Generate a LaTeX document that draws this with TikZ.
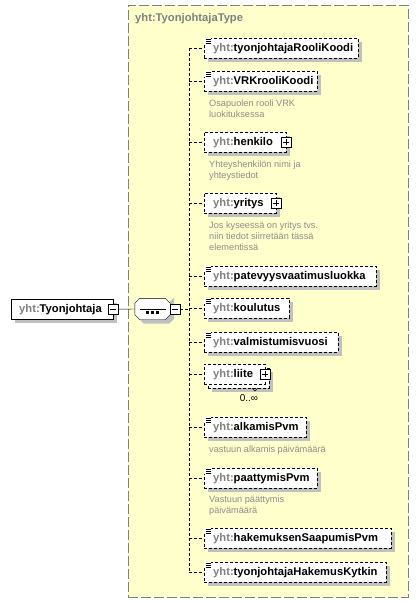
\documentclass[tikz,border=0pt]{standalone}
\usepackage{fontspec}
\setmainfont{Liberation Sans}
\definecolor{ybg}{RGB}{255,255,204}
\definecolor{bgrey}{RGB}{128,128,128}
\definecolor{shgrey}{RGB}{192,192,192}
\definecolor{pfx}{RGB}{128,128,128}
\definecolor{anno}{RGB}{140,140,140}
\newcommand{\yel}[1]{{\color{pfx}yht:}#1}
\tikzset{
  elem/.style={draw=black, dash pattern=on 3pt off 2pt, fill=white, anchor=north west,
    minimum height=20pt, inner xsep=9pt, inner ysep=0pt, text width=#1, align=left,
    font=\fontsize{11.2}{13}\selectfont\bfseries},
  rootbox/.style={draw=black, fill=white, anchor=north west, minimum height=20pt,
    inner xsep=8pt, inner ysep=0pt, text width=#1, align=left,
    font=\fontsize{11.2}{13}\selectfont\bfseries},
  shadowbox/.style={fill=shgrey, draw=none, anchor=north west, minimum height=20pt,
    minimum width=#1, inner sep=0pt},
  annot/.style={anchor=north west, inner sep=0pt, align=left, text=anno,
    font=\fontsize{9.2}{11}\selectfont},
  branch/.style={draw=black, dash pattern=on 3pt off 2pt},
  minusbox/.style={draw=black, solid, fill=white, minimum size=10pt, inner sep=0pt,
    path picture={\draw[solid] ([xshift=2pt]path picture bounding box.west) -- ([xshift=-2pt]path picture bounding box.east);}},
  plusbox/.style={draw=black, solid, fill=white, minimum size=10pt, inner sep=0pt,
    path picture={\draw[solid] ([xshift=2pt]path picture bounding box.west) -- ([xshift=-2pt]path picture bounding box.east);
      \draw[solid] ([yshift=-2pt]path picture bounding box.north) -- ([yshift=2pt]path picture bounding box.south);}},
  icon/.style={anchor=north west, fill=white, minimum width=7pt, minimum height=6pt, inner sep=0pt,
    path picture={\foreach \k in {1.5,3.5,5.5}{\draw[line width=0.8pt] ([xshift=1.5pt,yshift=-\k pt]path picture bounding box.north west) -- ++(5pt,0);}}},
  seqbox/.style={minimum width=35pt, minimum height=21pt, inner sep=0pt},
}
% #1 name, #2 x, #3 y, #4 width, #5 text
\newcommand{\elnode}[5]{%
  \pgfmathsetmacro{\tw}{#4-18}%
  \node (s#1) [shadowbox=#4pt] at ({#2+4},{#3+4}) {};
  \node (#1) [elem=\tw pt] at (#2,#3) {#5};}
\begin{document}
\begin{tikzpicture}[x=1pt,y=-1pt]
\useasboundingbox (0,0) rectangle (419,603);
% outer type box
\node (tp) [draw=bgrey, dash pattern=on 10pt off 3pt, fill=ybg, anchor=north west,
  minimum width=280pt, minimum height=592pt, inner sep=0pt] at (128,5) {};
\node (tt) [anchor=west, inner sep=0pt, text=pfx, font=\fontsize{11.2}{13}\selectfont\bfseries] at (135,19) {yht:TyonjohtajaType};
\coordinate (sp) at (189,0);

% root
\node (sr) [shadowbox=102pt] at (15,303) {};
\node (r) [rootbox=86pt] at (11,299) {\yel{Tyonjohtaja}};
\node (rm) [minusbox] at (r.east) {};
% sequence
\node (sq) [seqbox] at (152.5,309) {};
\fill[shgrey] ([shift={(9,4)}]sq.north west) -- ([shift={(-1,4)}]sq.north east) -- ([shift={(4,-1)}]sq.north east)
  -- ([shift={(4,-1)}]sq.south east) -- ([shift={(-1,4)}]sq.south east) -- ([shift={(9,4)}]sq.south west)
  -- ([shift={(4,-1)}]sq.south west) -- ([shift={(4,9)}]sq.north west) -- cycle;
\draw[fill=white] ([xshift=5pt]sq.north west) -- ([xshift=-5pt]sq.north east) -- ([yshift=-5pt]sq.north east)
  -- ([yshift=5pt]sq.south east) -- ([xshift=-5pt]sq.south east) -- ([xshift=5pt]sq.south west)
  -- ([yshift=5pt]sq.south west) -- ([yshift=-5pt]sq.north west) -- cycle;
\draw ([xshift=-13pt]sq.center) -- ([xshift=13pt]sq.center);
\foreach \d in {-5,0,5}{\fill ([xshift=\d pt-1.5pt,yshift=-1.5pt]sq.center) rectangle ++(3,3);}
\node (sm) [minusbox] at (175,309) {};
\draw (rm.east) -- (sq.west);

% elements
\elnode{e1}{204}{38}{154}{\yel{tyonjohtajaRooliKoodi}}
\node (i1) [icon] at (e1.north west) {};
\elnode{e2}{204}{71}{113}{\yel{VRKrooliKoodi}}
\node (i2) [icon] at (e2.north west) {};
\node (a2) [annot] at (209,100) {Osapuolen rooli VRK\\luokituksessa};
\elnode{e3}{204}{132}{82}{\yel{henkilo}}
\node (p3) [plusbox] at (e3.east) {};
\node (a3) [annot] at (209,161) {Yhteyshenkilön nimi ja\\yhteystiedot};
\elnode{e4}{204}{193}{72}{\yel{yritys}}
\node (p4) [plusbox] at (e4.east) {};
\node (a4) [annot] at (209,222) {Jos kyseessä on yritys tvs.\\niin tiedot siirretään tässä\\elementissä};
\elnode{e5}{204}{266}{172}{\yel{patevyysvaatimusluokka}}
\node (i5) [icon] at (e5.north west) {};
\elnode{e6}{204}{298}{85}{\yel{koulutus}}
\node (i6) [icon] at (e6.north west) {};
\elnode{e7}{204}{332}{134}{\yel{valmistumisvuosi}}
\node (i7) [icon] at (e7.north west) {};
% liite (multiple occurrences)
\elnode{e8b}{208}{368}{61}{}
\node (e8) [elem=43pt] at (204,364) {\yel{liite}};
\node (p8) [plusbox] at (e8.east) {};
\draw (252,388) -- (255,391) -- (258,388);
\node (m8) [inner sep=0pt, font=\fontsize{10}{12}\selectfont] at (249,398) {0..∞};
\elnode{e9}{204}{417}{102}{\yel{alkamisPvm}}
\node (i9) [icon] at (e9.north west) {};
\node (a9) [annot] at (209,446) {vastuun alkamis päivämäärä};
\elnode{e10}{204}{468}{113}{\yel{paattymisPvm}}
\node (i10) [icon] at (e10.north west) {};
\node (a10) [annot] at (209,496) {Vastuun päättymis\\päivämäärä};
\elnode{e11}{204}{528}{187}{\yel{hakemuksenSaapumisPvm}}
\node (i11) [icon] at (e11.north west) {};
\elnode{e12}{204}{562}{182}{\yel{tyonjohtajaHakemusKytkin}}
\node (i12) [icon] at (e12.north west) {};

% tree connectors
\draw[branch] (e1.west -| sp) -- (e12.west -| sp);
\draw[branch] (sm.east) -- (sm.east -| sp);
\foreach \e in {e1,e2,e3,e4,e5,e6,e7,e8,e9,e10,e11,e12}{
  \draw[branch] (\e.west -| sp) -- (\e.west);
}
\end{tikzpicture}
\end{document}
